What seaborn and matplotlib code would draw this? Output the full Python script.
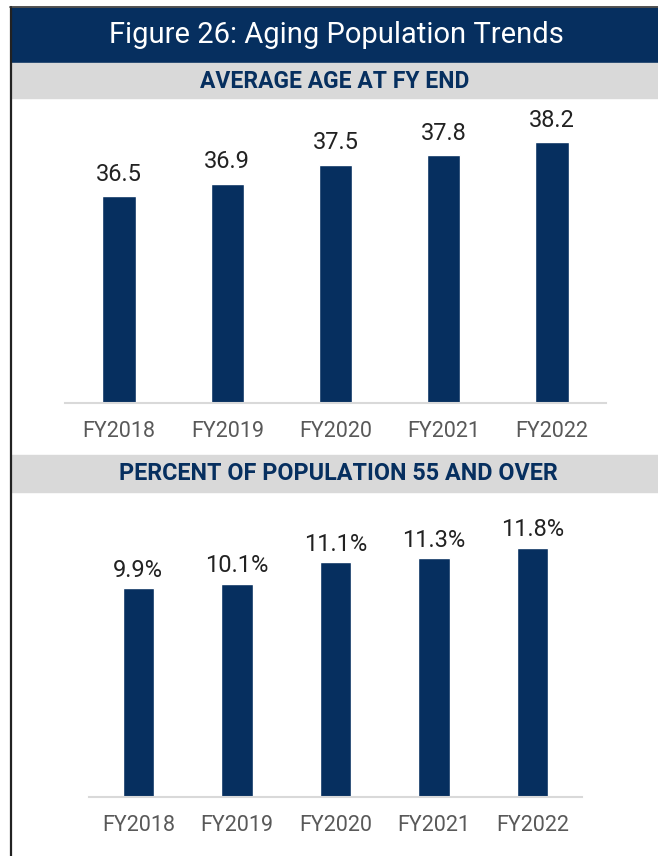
import matplotlib.pyplot as plt
import matplotlib.patches as mpatches
import seaborn as sns
import pandas as pd

# Data
years = ['FY2018', 'FY2019', 'FY2020', 'FY2021', 'FY2022']
avg_age = [36.5, 36.9, 37.5, 37.8, 38.2]
pct_55_over = [9.9, 10.1, 11.1, 11.3, 11.8]

title = 'Figure 26: Aging Population Trends'
header_top = 'AVERAGE AGE AT FY END'
header_bottom = 'PERCENT OF POPULATION 55 AND OVER'

navy = '#062F5F'
band_grey = '#D9D9D9'
label_col = '#222222'
tick_col = '#595959'

sns.set_style('white')
plt.rcParams['font.family'] = ['Roboto', 'DejaVu Sans']

W, H = 658, 856
fig = plt.figure(figsize=(W / 100, H / 100), dpi=100)


def fy(p):
    return 1 - p / H


def fx(p):
    return p / W


# title band, grey headers and frame lines
fig.patches.append(mpatches.Rectangle((fx(11), fy(62)), fx(W - 11), (62 - 8) / H,
                                      transform=fig.transFigure, color=navy, zorder=0))
fig.patches.append(mpatches.Rectangle((fx(11), fy(98)), fx(W - 11), (98 - 63) / H,
                                      transform=fig.transFigure, color=band_grey, zorder=0))
fig.patches.append(mpatches.Rectangle((fx(11), fy(492)), fx(W - 11), (492 - 455) / H,
                                      transform=fig.transFigure, color=band_grey, zorder=0))
fig.add_artist(plt.Line2D([fx(10.5), fx(10.5)], [fy(7), 0], transform=fig.transFigure,
                          color='#222222', lw=1.6))
fig.add_artist(plt.Line2D([fx(10), 1], [fy(7), fy(7)], transform=fig.transFigure,
                          color='#333333', lw=1.2))

fig.text(fx(336), fy(35), title, color='white', fontsize=21, ha='center', va='center')
fig.text(fx(335), fy(81), header_top, color=navy, fontsize=16.5, fontweight='bold',
         ha='center', va='center')
fig.text(fx(338), fy(474), header_bottom, color=navy, fontsize=16.8, fontweight='bold',
         ha='center', va='center')

df_age = pd.DataFrame({'year': years, 'value': avg_age})
df_pct = pd.DataFrame({'year': years, 'value': pct_55_over})

# top chart
ax1 = fig.add_axes([fx(65), fy(403), fx(606 - 65), (403 - 100) / H])
sns.barplot(data=df_age, x='year', y='value', color=navy, saturation=1, width=0.31, ax=ax1)
ax1.set_ylim(30, 39.53)
ax1.bar_label(ax1.containers[0], labels=[f'{v:.1f}' for v in avg_age],
              padding=7.5, fontsize=17, color=label_col)

# bottom chart
ax2 = fig.add_axes([fx(89), fy(797), fx(582 - 89), (797 - 497) / H])
sns.barplot(data=df_pct, x='year', y='value', color=navy, saturation=1, width=0.32, ax=ax2)
ax2.set_ylim(0, 14.2)
ax2.bar_label(ax2.containers[0], labels=[f'{v:.1f}%' for v in pct_55_over],
              padding=4.5, fontsize=17, color=label_col)

for ax in (ax1, ax2):
    ax.set_facecolor('none')
    ax.set_xlim(-0.5, 4.5)
    ax.set_xlabel('')
    ax.set_ylabel('')
    ax.set_yticks([])
    for s in ('top', 'right', 'left'):
        ax.spines[s].set_visible(False)
    ax.spines['bottom'].set_color('#D9D9D9')
    ax.spines['bottom'].set_linewidth(1.5)
    ax.tick_params(axis='x', length=0, pad=13, labelsize=15.5, labelcolor=tick_col)

fig.savefig('out.png', dpi=100, facecolor='white')
